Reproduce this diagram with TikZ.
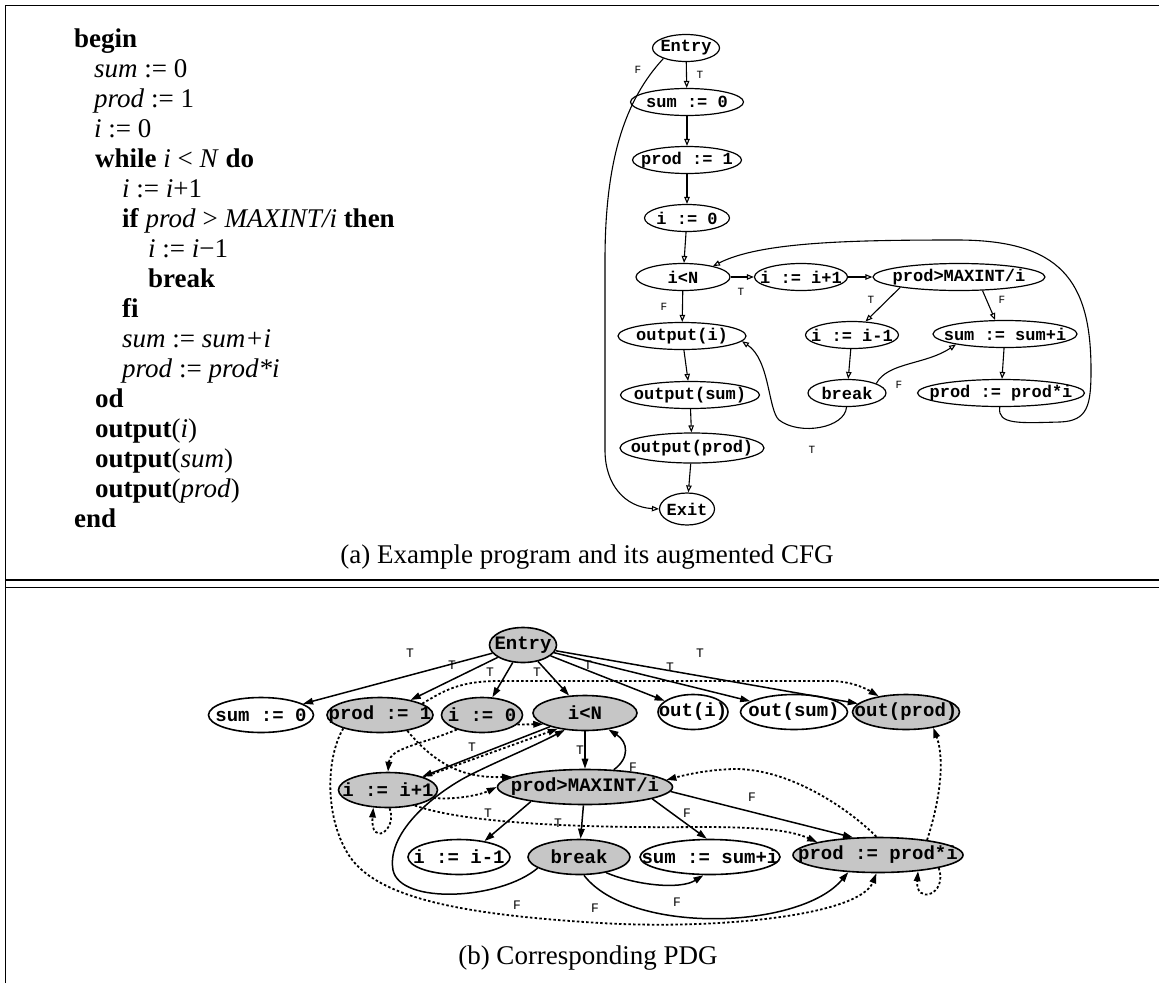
\documentclass[tikz,border=0pt]{standalone}
\usepackage{fontspec}
\setmainfont{Liberation Serif}
\newfontfamily\mono{Liberation Mono}
\usetikzlibrary{shapes.geometric,arrows.meta}
\tikzset{
  cfg/.style={ellipse, draw, line width=1.2pt, inner sep=0pt, minimum height=27pt,
    font=\mono\bfseries\fontsize{17}{18}\selectfont},
  pdg/.style={ellipse, draw, line width=1.6pt, inner sep=0pt, minimum height=35pt,
    font=\mono\bfseries\fontsize{19}{21}\selectfont},
  sh/.style={fill=gray!45},
  carr/.style={line width=1.1pt, -{Triangle[open,length=7pt,width=5.5pt]}},
  parr/.style={line width=1.5pt, -{Triangle[length=10pt,width=6.5pt]}},
  dep/.style={line width=1.8pt, dash pattern=on 2.5pt off 2.2pt, -{Triangle[length=10pt,width=6.5pt]}},
  clbl/.style={font=\mono\fontsize{11}{11}\selectfont, inner sep=0pt},
  lbl/.style={font=\mono\fontsize{13}{13}\selectfont, inner sep=0pt},
  prog/.style={font=\fontsize{27}{30}\selectfont, inner sep=0pt, anchor=base west},
  captxt/.style={font=\fontsize{27}{30}\selectfont, inner sep=0pt},
  frm/.style={line width=1pt}
}
\newcommand{\mb}[1]{\makebox[0pt]{#1}}
\begin{document}
\begin{tikzpicture}[x=1pt,y=-1pt]
\useasboundingbox (0,0) rectangle (1159,983);
% frame
\draw[frm] (5,983) -- (5,5) -- (1159,5);
\draw[line width=2pt] (5,580) -- (1159,580);
\draw[line width=1pt] (5,587) -- (1159,587);

% ---------------- program text ----------------
\node[prog] (l0)  at (74,47)  {\textbf{begin}};
\node[prog] (l1)  at (94,77)  {\textit{sum} := 0};
\node[prog] (l2)  at (94,107) {\textit{prod} := 1};
\node[prog] (l3)  at (94,137) {\textit{i} := 0};
\node[prog] (l4)  at (95,167) {\textbf{while} \textit{i} {<} \textit{N} \textbf{do}};
\node[prog] (l5)  at (122,197) {\textit{i} := \textit{i}+1};
\node[prog] (l6)  at (122,227) {\textbf{if} \textit{prod} > \textit{MAXINT/i} \textbf{then}};
\node[prog] (l7)  at (148,257) {\textit{i} := \textit{i}−1};
\node[prog] (l8)  at (148,287) {\textbf{break}};
\node[prog] (l9)  at (122,317) {\textbf{fi}};
\node[prog] (l10) at (122,347) {\textit{sum} := \textit{sum+i}};
\node[prog] (l11) at (122,377) {\textit{prod} := \textit{prod*i}};
\node[prog] (l12) at (95,407) {\textbf{od}};
\node[prog] (l13) at (95,437) {\textbf{output}(\textit{i})};
\node[prog] (l14) at (95,467) {\textbf{output}(\textit{sum})};
\node[prog] (l15) at (95,497) {\textbf{output}(\textit{prod})};
\node[prog] (l16) at (74,527) {\textbf{end}};

% ---------------- CFG ----------------
\node[cfg, minimum width=67pt]  (cE)  at (686,48)  {\mb{Entry}};
\node[cfg, minimum width=113pt] (cS)  at (687,102) {\mb{sum := 0}};
\node[cfg, minimum width=109pt] (cP)  at (687,160) {\mb{prod := 1}};
\node[cfg, minimum width=85pt]  (cI)  at (687,218) {\mb{i := 0}};
\node[cfg, minimum width=94pt]  (cL)  at (683,277) {\mb{i<N}};
\node[cfg, minimum width=93pt]  (cA)  at (801,277) {\mb{i := i+1}};
\node[cfg, minimum width=172pt] (cC)  at (959,277) {\mb{prod>MAXINT/i}};
\node[cfg, minimum width=128pt] (cOi) at (682,336) {\mb{output(i)}};
\node[cfg, minimum width=93pt]  (cM)  at (852,335) {\mb{i := i-1}};
\node[cfg, minimum width=144pt] (cU)  at (1005,334) {\mb{sum := sum+i}};
\node[cfg, minimum width=139pt] (cOs) at (690,395) {\mb{output(sum)}};
\node[cfg, minimum width=78pt]  (cB)  at (847,393) {\mb{break}};
\node[cfg, minimum width=167pt] (cR)  at (1001,393) {\mb{prod := prod*i}};
\node[cfg, minimum width=144pt, minimum height=30pt] (cOp) at (692,448) {\mb{output(prod)}};
\node[cfg, minimum width=55pt, minimum height=32pt]  (cX)  at (687,509) {\mb{Exit}};

\draw[carr] (cE) -- (cS);
\draw[carr] (cS) -- (cP);
\draw[carr] (cP) -- (cI);
\draw[carr] (cI) -- (cL);
\draw[carr] (cL) -- (cA);
\draw[carr] (cA) -- (cC);
\draw[carr] (cL) -- (cOi);
\draw[carr] (cOi) -- (cOs);
\draw[carr] (cOs) -- (cOp);
\draw[carr] (cOp) -- (cX);
\draw[carr] (cC.-170) -- (cM.45);
\draw[carr] (cC.-30) -- (cU.125);
\draw[carr] (cM) -- (cB);
\draw[carr] (cU) -- (cR);
\draw[carr] (cE.205) .. controls (625,100) and (605,160) .. (605,260) -- (605,450)
   .. controls (605,485) and (625,507) .. (cX.west);
\draw[carr] (cB.18) .. controls (888,362) and (925,365) .. (cU.-168);
\draw[carr] (cB.-92) .. controls (845,428) and (800,436) .. (779,420)
   .. controls (768,410) and (770,360) .. (cOi.-5);
\draw[carr] (cR.-95) .. controls (997,425) and (1020,423) .. (1060,422)
   .. controls (1088,421) and (1091,405) .. (1091,370)
   .. controls (1091,280) and (1060,240) .. (957,240)
   .. controls (850,240) and (760,242) .. (cL.20);

\node[clbl] (ct1) at (700,75)  {T};
\node[clbl] (cf1) at (638,70)  {F};
\node[clbl] (ct2) at (741,292) {T};
\node[clbl] (cf2) at (664,307) {F};
\node[clbl] (ct3) at (871,300) {T};
\node[clbl] (cf3) at (1002,300) {F};
\node[clbl] (cf4) at (899,385) {F};
\node[clbl] (ct4) at (812,450) {T};

\node[captxt] (capa) at (587,557) {(a) Example program and its augmented CFG};

% ---------------- PDG ----------------
\node[pdg, sh, minimum width=67pt]  (pE)  at (523,645) {\mb{Entry}};
\node[pdg,     minimum width=105pt] (pS)  at (261,715) {\mb{sum := 0}};
\node[pdg, sh, minimum width=106pt] (pP)  at (380,715) {\mb{prod := 1}};
\node[pdg, sh, minimum width=81pt]  (pI)  at (482,715) {\mb{i := 0}};
\node[pdg, sh, minimum width=104pt] (pL)  at (585,713) {\mb{i<N}};
\node[pdg,     minimum width=70pt]  (pO1) at (693,712) {\mb{out(i)}};
\node[pdg,     minimum width=107pt] (pO2) at (794,712) {\mb{out(sum)}};
\node[pdg, sh, minimum width=107pt] (pO3) at (906,712) {\mb{out(prod)}};
\node[pdg, sh, minimum width=99pt]  (pA)  at (388,790) {\mb{i := i+1}};
\node[pdg, sh, minimum width=175pt] (pC)  at (585,787) {\mb{prod>MAXINT/i}};
\node[pdg,     minimum width=102pt] (pM)  at (459,857) {\mb{i := i-1}};
\node[pdg, sh, minimum width=102pt] (pB)  at (579,857) {\mb{break}};
\node[pdg,     minimum width=140pt] (pU)  at (710,857) {\mb{sum := sum+i}};
\node[pdg, sh, minimum width=170pt] (pR)  at (878,855) {\mb{prod := prod*i}};

% control dependences
\draw[parr] (pE) -- (pS);
\draw[parr] (pE) -- (pP);
\draw[parr] (pE) -- (pI);
\draw[parr] (pE) -- (pL);
\draw[parr] (pE) -- (pO1);
\draw[parr] (pE) -- (pO2);
\draw[parr] (pE) -- (pO3);
\draw[parr] (pL) -- (pA);
\draw[parr] (pL) -- (pC);
\draw[parr] (pC.31) .. controls (630,758) and (628,742) .. (pL.-35);
\draw[parr] (pC.-165) -- (pM.32);
\draw[parr] (pC) -- (pB);
\draw[parr] (pC.-10) -- (pU.100);
\draw[parr] (pC.-3) -- (pR.145);
\draw[parr] (pB.-30) .. controls (635,885) and (680,890) .. (pU.250);
\draw[parr] (pB.-75) .. controls (630,935) and (800,930) .. (pR.-150);
\draw[parr] (pB.-165) .. controls (500,900) and (400,905) .. (393,870)
   .. controls (386,830) and (440,790) .. (470,775)
   .. controls (500,760) and (530,748) .. (pL.-140);

% data dependences
\draw[dep] (pP.15) .. controls (445,690) and (460,681) .. (500,681) -- (830,681)
   .. controls (850,681) and (865,688) .. (pO3.150);
\draw[dep] (pP.-30) .. controls (440,770) and (470,778) .. (pC.172);
\draw[dep] (pP.-160) .. controls (325,760) and (325,820) .. (350,857)
   .. controls (380,900) and (470,915) .. (600,923)
   .. controls (720,930) and (860,915) .. (pR.-95);
\draw[dep] (pI.-150) .. controls (420,745) and (390,748) .. (pA.north);
\draw[dep] (pI.-15) -- (pL.-165);
\draw[dep] (pA.20) -- (pL.-150);
\draw[dep] (pA.-10) .. controls (455,800) and (480,795) .. (pC.180);
\draw[dep] (pA.-85) .. controls (398,830) and (370,848) .. (pA.-130);
\draw[dep] (pA.-30) .. controls (470,825) and (600,828) .. (700,827)
   .. controls (760,827) and (790,830) .. (pR.168);
\draw[dep] (pR.95) .. controls (850,810) and (790,768) .. (733,769)
   .. controls (705,770) and (685,775) .. (pC.5);
\draw[dep] (pR.17) .. controls (940,800) and (945,760) .. (pO3.-30);
\draw[dep] (pR.-12) .. controls (948,895) and (915,905) .. (pR.-22);

% labels
\node[lbl] (pt1) at (410,653) {T};
\node[lbl] (pt2) at (452,665) {T};
\node[lbl] (pt3) at (490,672) {T};
\node[lbl] (pt4) at (537,672) {T};
\node[lbl] (pt5) at (588,665) {T};
\node[lbl] (pt6) at (670,667) {T};
\node[lbl] (pt7) at (700,653) {T};
\node[lbl] (pt8) at (472,747) {T};
\node[lbl] (pt9) at (580,750) {T};
\node[lbl] (pf1) at (633,767) {F};
\node[lbl] (pt10) at (488,813) {T};
\node[lbl] (pt11) at (558,823) {T};
\node[lbl] (pf2) at (687,813) {F};
\node[lbl] (pf3) at (752,797) {F};
\node[lbl] (pf4) at (517,905) {F};
\node[lbl] (pf5) at (595,908) {F};
\node[lbl] (pf6) at (677,902) {F};

\node[captxt] (capb) at (588,958) {(b) Corresponding PDG};
\end{tikzpicture}
\end{document}
